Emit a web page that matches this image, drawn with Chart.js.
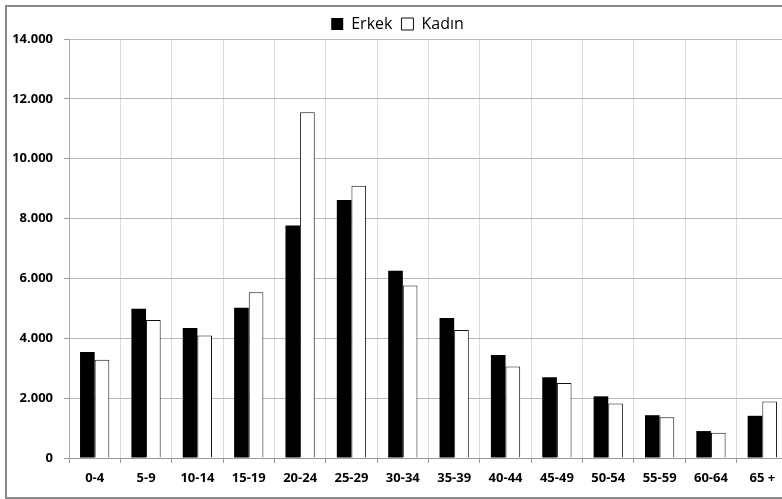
<!DOCTYPE html>
<html>
<head>
<meta charset="utf-8">
<script src="https://cdn.jsdelivr.net/npm/chart.js@4"></script>
<style>
html, body { margin: 0; padding: 0; overflow: hidden; background: #fff; width: 782px; height: 499px; }
#frame { position: absolute; left: 5px; top: 5px; width: 796px; height: 494px; border: 2px solid #8a8a8a; box-sizing: border-box; background: #fff; }
#wrap { position: absolute; left: 0; top: 0; width: 792px; height: 490px; }
</style>
</head>
<body>
<div id="frame"><div id="wrap"><canvas id="c"></canvas></div></div>
<script>
const categories = ['0-4','5-9','10-14','15-19','20-24','25-29','30-34','35-39','40-44','45-49','50-54','55-59','60-64','65 +'];
const erkek = [3540, 4990, 4340, 5020, 7770, 8620, 6260, 4680, 3440, 2700, 2060, 1430, 900, 1410];
const kadin = [3280, 4610, 4090, 5540, 11550, 9100, 5760, 4280, 3060, 2510, 1820, 1360, 840, 1890];
const seriesNames = ['Erkek', 'Kadın'];
const yMin = 0, yMax = 14000, yStep = 2000;

const fmt = v => String(v).replace(/\B(?=(\d{3})+(?!\d))/g, '.');

const legendHeightPlugin = {
  id: 'legendHeight',
  beforeLayout(chart) {
    const lg = chart.legend;
    if (lg && !lg._patched) {
      const orig = lg.fit;
      lg.fit = function () { orig.call(this); this.height = 32; };
      lg._patched = true;
    }
  }
};

new Chart(document.getElementById('c'), {
  type: 'bar',
  data: {
    labels: categories,
    datasets: [
      { label: seriesNames[0], data: erkek, backgroundColor: '#000', borderColor: '#000', borderWidth: 0 },
      { label: seriesNames[1], data: kadin, backgroundColor: '#fff', borderColor: '#111', borderWidth: 1 }
    ]
  },
  options: {
    responsive: true,
    maintainAspectRatio: false,
    animation: false,
    layout: { padding: { left: 0, right: 11, top: 0, bottom: 0 } },
    datasets: { bar: { barPercentage: 1.0, categoryPercentage: 0.57 } },
    plugins: {
      legend: {
        position: 'top',
        labels: {
          boxWidth: 12, boxHeight: 12, padding: 9,
          color: '#000',
          font: { family: 'Open Sans', size: 16 }
        }
      },
      tooltip: { enabled: false }
    },
    scales: {
      x: {
        grid: { color: '#dadada', tickColor: '#9a9a9a', tickLength: 5, offset: true },
        border: { color: '#9a9a9a', width: 1 },
        ticks: { color: '#000', font: { family: 'Open Sans', size: 13, weight: 'bold' }, padding: 7, maxRotation: 0, autoSkip: false },
        afterFit(s) { s.height = 39; }
      },
      y: {
        min: yMin, max: yMax,
        grid: { color: '#b8b8b8', tickColor: '#9a9a9a', tickLength: 5 },
        border: { color: '#a8a8a8', width: 1 },
        ticks: { stepSize: yStep, color: '#000', font: { family: 'Open Sans', size: 13, weight: 'bold' }, padding: 11, callback: v => fmt(v) },
        afterFit(s) { s.width = 62; }
      }
    }
  },
  plugins: [legendHeightPlugin]
});
</script>
</body>
</html>
